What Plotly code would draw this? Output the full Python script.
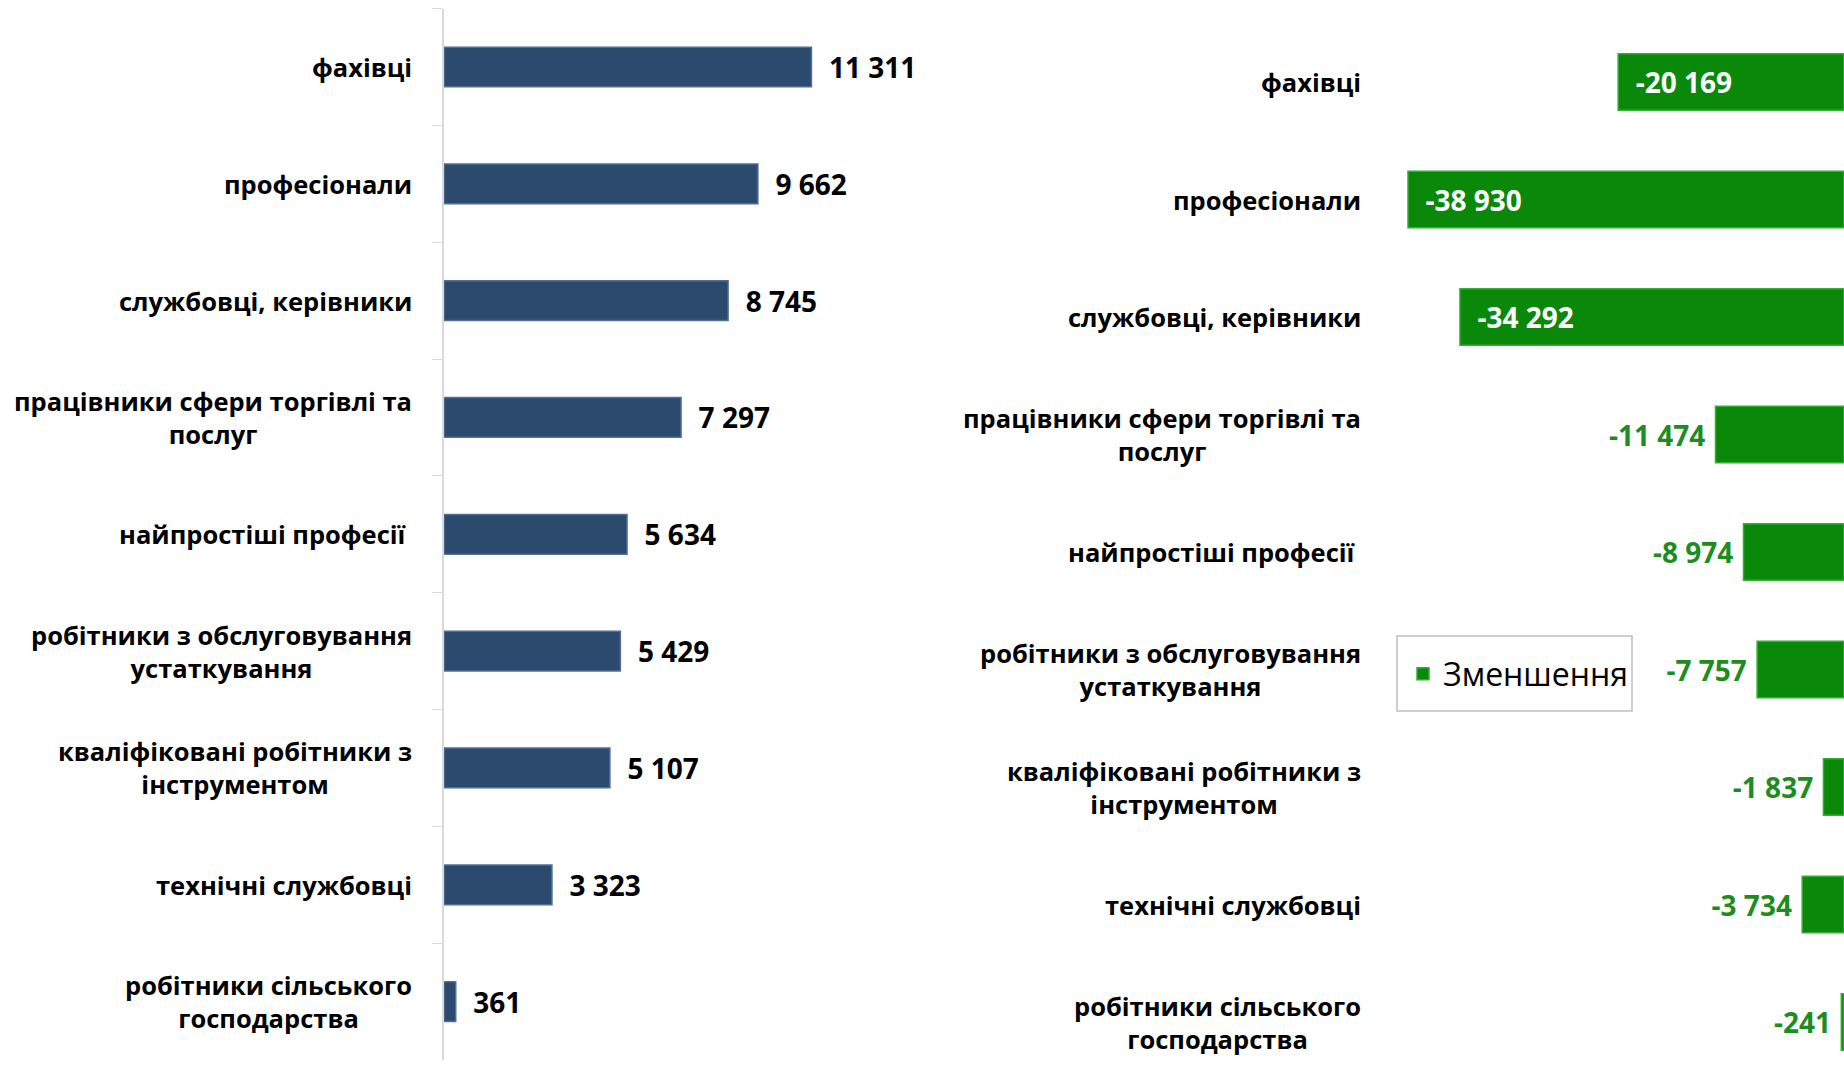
import plotly.graph_objects as go

categories = [
    "фахівці",
    "професіонали",
    "службовці, керівники",
    "працівники сфери торгівлі та<br>послуг",
    "найпростіші професії ",
    "робітники з обслуговування<br>устаткування",
    "кваліфіковані робітники з<br>інструментом",
    "технічні службовці",
    "робітники сільського<br>господарства",
]
increase_values = [11311, 9662, 8745, 7297, 5634, 5429, 5107, 3323, 361]
decrease_values = [-20169, -38930, -34292, -11474, -8974, -7757, -1837, -3734, -241]
legend_name = "Зменшення"

FONT = "Open Sans"
NB = "\u00a0"
W, H = 1844, 1074


def fmt(v):
    s = f"{abs(v):,}".replace(",", " ")
    return ("-" if v < 0 else "") + s


left_text = [NB * 2 + fmt(v) for v in increase_values]
inside_mask = [abs(v) > 15000 for v in decrease_values]
right_text = [(NB * 2 + fmt(v)) if m else (fmt(v) + NB) for v, m in zip(decrease_values, inside_mask)]
right_pos = ["inside" if m else "outside" for m in inside_mask]

fig = go.Figure()

fig.add_trace(go.Bar(
    x=increase_values, y=categories, orientation="h",
    marker=dict(color="#2C4A6E", line=dict(color="#4F6F96", width=1.5)),
    width=0.34,
    text=left_text, textposition="outside",
    textfont=dict(family=FONT, size=28, color="black", weight="bold"),
    cliponaxis=False,
    showlegend=False,
    xaxis="x", yaxis="y",
))

fig.add_trace(go.Bar(
    x=decrease_values, y=categories, orientation="h",
    name=legend_name,
    marker=dict(color="#0A880A", line=dict(color="#35AE35", width=1.5)),
    width=0.48,
    text=right_text, textposition=right_pos,
    insidetextanchor="end",
    outsidetextfont=dict(family=FONT, size=28, color="#1E8C1E", weight="bold"),
    insidetextfont=dict(family=FONT, size=28, color="white", weight="bold"),
    constraintext="none",
    cliponaxis=True,
    showlegend=True,
    xaxis="x2", yaxis="y2",
))

annotations = []
for c in categories:
    label = c.rstrip() + (NB if c.endswith(" ") else "")
    annotations.append(dict(
        text=label, xref="paper", yref="y", x=414 / W, y=c,
        xanchor="right", yanchor="middle", align="center", showarrow=False,
        font=dict(family=FONT, size=25.5, color="black", weight="bold"),
    ))
    annotations.append(dict(
        text=label, xref="paper", yref="y2", x=1363 / W, y=c,
        xanchor="right", yanchor="middle", align="center", showarrow=False,
        font=dict(family=FONT, size=25.5, color="black", weight="bold"),
    ))

fig.update_layout(
    width=W, height=H,
    margin=dict(l=0, r=0, t=0, b=0),
    paper_bgcolor="white", plot_bgcolor="white",
    font=dict(family=FONT, size=24, color="black"),
    xaxis=dict(domain=[444 / W, 0.49], range=[0, 14146], visible=False),
    yaxis=dict(
        domain=[1 - 1060 / H, 1 - 8.6 / H], anchor="x",
        autorange="reversed",
        showline=True, linecolor="#D9D9D9", linewidth=1.5,
        ticks="outside", tickson="boundaries", ticklen=10, tickcolor="#D9D9D9",
        showticklabels=False,
        showgrid=False, zeroline=False,
    ),
    xaxis2=dict(domain=[1380 / W, 1.0], range=[-41429, 0], visible=False, anchor="y2"),
    yaxis2=dict(
        domain=[0.0, 1.0], anchor="x2",
        range=[-0.6979 + H / 117.5, -0.6979],
        showline=False, ticks="", showgrid=False, zeroline=False,
        showticklabels=False,
    ),
    legend=dict(
        x=1403 / W, y=1 - 674 / H, xanchor="left", yanchor="middle",
        borderwidth=0, bgcolor="rgba(0,0,0,0)",
        font=dict(family=FONT, size=32, color="black"),
        itemwidth=30,
    ),
    shapes=[dict(
        type="rect", xref="paper", yref="paper",
        x0=1397 / W, x1=1632 / W, y0=1 - 711 / H, y1=1 - 636 / H,
        line=dict(color="#BFBFBF", width=1.5), fillcolor="rgba(0,0,0,0)", layer="below",
    )],
    annotations=annotations,
    showlegend=True,
)

fig.write_html(
    "out.html",
    config={"displayModeBar": False},
    post_script="document.body.style.margin='0';document.body.style.overflow='hidden';",
)
